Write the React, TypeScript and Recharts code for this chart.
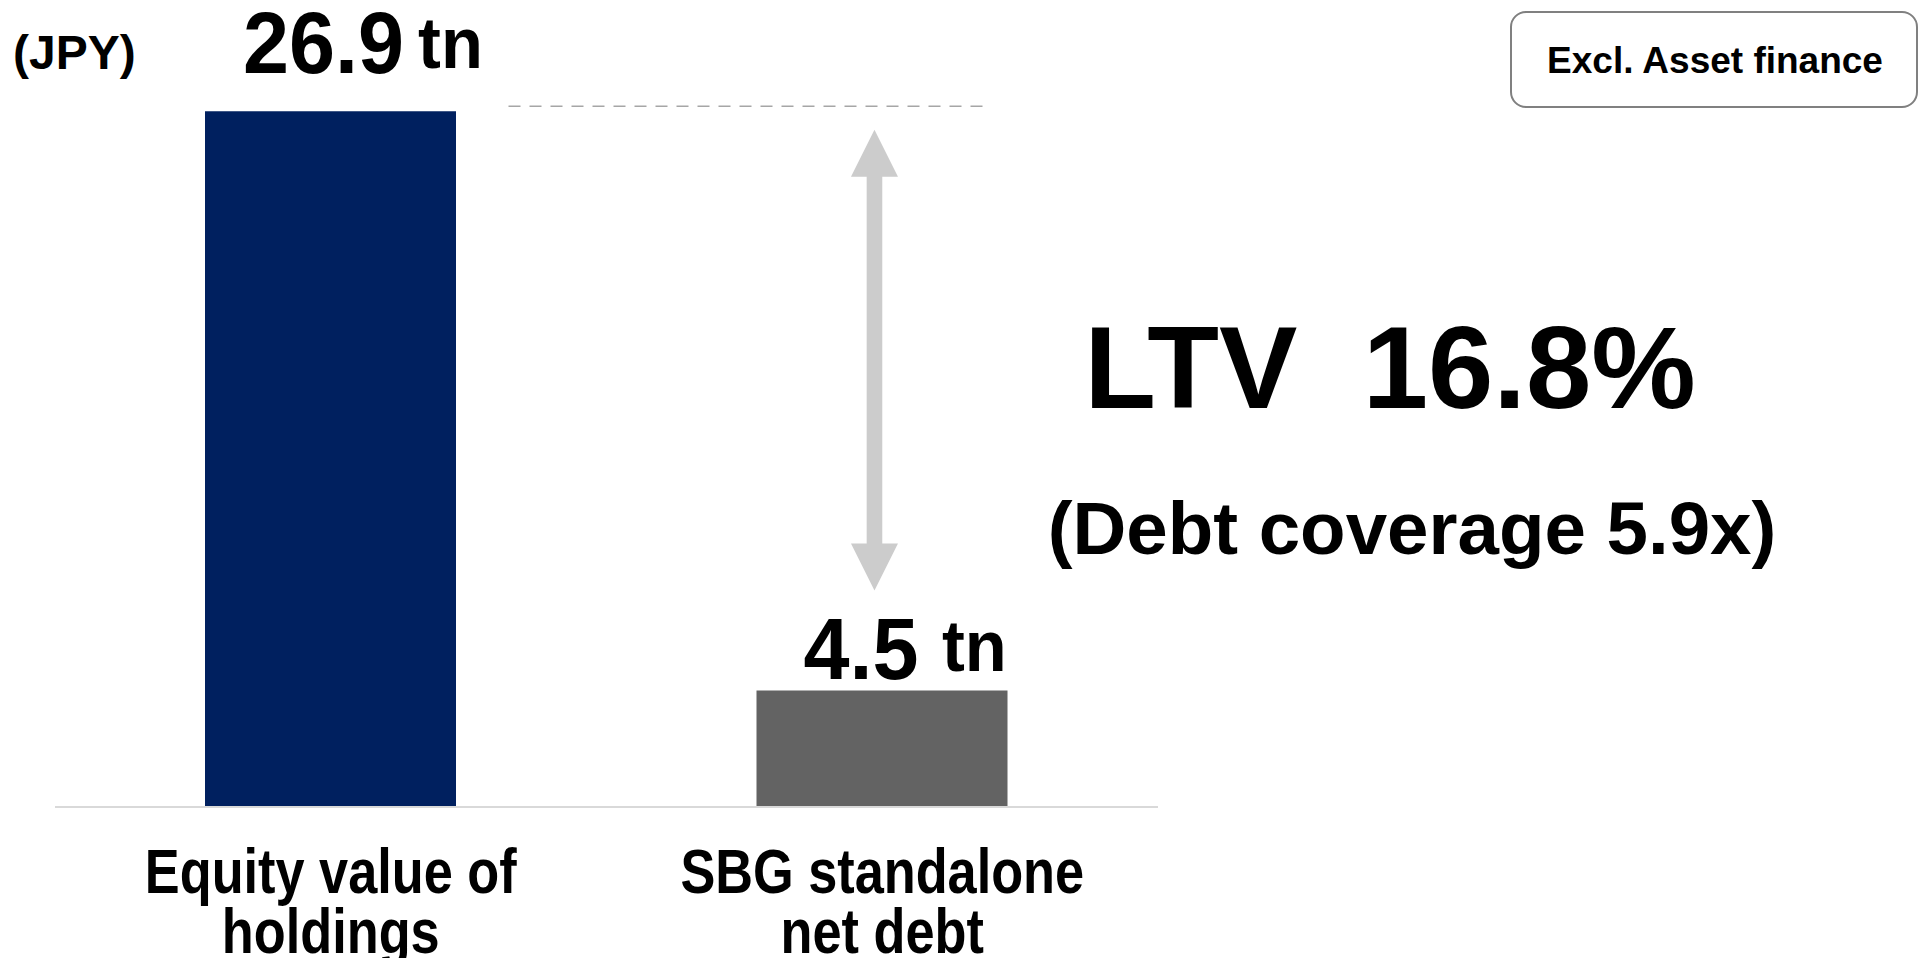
import { BarChart, Bar, XAxis, YAxis, Cell, LabelList } from 'recharts'

const CATEGORY_LINES = [
  ['Equity value of', 'holdings'],
  ['SBG standalone', 'net debt'],
]
const VALUES = [26.9, 4.5]
const VALUE_TEXT = ['26.9', '4.5']
const UNIT = 'tn'
const CURRENCY = '(JPY)'
const LTV_TEXT = 'LTV  16.8%'
const COVERAGE_TEXT = '(Debt coverage 5.9x)'
const SCOPE_TEXT = 'Excl. Asset finance'
const Y_DOMAIN = [0, 30]

const BAR_COLORS = ['#00205f', '#636363']
const FONT = '"Liberation Sans", Arial, Helvetica, sans-serif'

// label placement per bar (offsets from the bar's top-left corner)
const VALUE_LABEL_POS = [
  { dx: 38, dy: -38, gap: 15, unitDy: -5 },
  { dx: 47, dy: -12, gap: 25, unitDy: -8 },
]

const data = CATEGORY_LINES.map((lines, i) => ({
  name: lines.join(' '),
  value: VALUES[i],
}))

function ValueLabel(props: any) {
  const { x, y, index } = props
  const p = VALUE_LABEL_POS[index]
  if (!p) return null
  return (
    <g transform={`translate(${x + p.dx},${y + p.dy}) scale(0.94,1)`}>
      <text x={0} y={0} fontFamily={FONT} fontWeight="bold" fontSize={88} fill="#000">
        {VALUE_TEXT[index]}
        <tspan fontSize={73} dx={p.gap} dy={p.unitDy}>{UNIT}</tspan>
      </text>
    </g>
  )
}

// dashed level of the equity bar and the gap arrow, drawn next to the debt bar
function SpanMarker(props: any) {
  const { x, y, width, height, index } = props
  if (index !== 1) return null
  const k = height / VALUES[1]
  const bottom = y + height
  const levelY = bottom - VALUES[0] * k - 5
  const cx = x + width * 0.47
  const top = levelY + 23.5
  const tip = y - 100
  const headH = 47
  const headW = 23.5
  const shaft = 7.8
  const pts = [
    [cx, top],
    [cx + headW, top + headH],
    [cx + shaft, top + headH],
    [cx + shaft, tip - headH],
    [cx + headW, tip - headH],
    [cx, tip],
    [cx - headW, tip - headH],
    [cx - shaft, tip - headH],
    [cx - shaft, top + headH],
    [cx - headW, top + headH],
  ]
  return (
    <g>
      <line
        x1={x - 248}
        x2={x + 226}
        y1={levelY}
        y2={levelY}
        stroke="#a6a6a6"
        strokeWidth={1.5}
        strokeDasharray="12 9"
      />
      <polygon points={pts.map((q) => q.join(',')).join(' ')} fill="#cccccc" />
    </g>
  )
}

function CategoryTick(props: any) {
  const { x, y, payload } = props
  const lines = CATEGORY_LINES.find((l) => l.join(' ') === payload.value) || [payload.value]
  return (
    <g transform={`translate(${x},${y}) scale(0.83,1)`}>
      {lines.map((line, i) => (
        <text
          key={i}
          x={0}
          y={86 + i * 60}
          textAnchor="middle"
          fontFamily={FONT}
          fontWeight="bold"
          fontSize={63}
          fill="#000"
        >
          {line}
        </text>
      ))}
    </g>
  )
}

export default function App() {
  return (
    <div style={{ position: 'absolute', left: 0, top: 0, width: 1922, height: 958, background: '#fff' }}>
      <BarChart
        width={1922}
        height={958}
        data={data}
        margin={{ top: 31, right: 764, bottom: 0, left: 55 }}
      >
        <YAxis hide domain={Y_DOMAIN} />
        <XAxis
          dataKey="name"
          height={151}
          axisLine={{ stroke: '#d9d9d9', strokeWidth: 2 }}
          tickLine={false}
          tickSize={0}
          tickMargin={0}
          interval={0}
          tick={<CategoryTick />}
        />
        <Bar dataKey="value" barSize={251} isAnimationActive={false}>
          {data.map((d, i) => (
            <Cell key={d.name} fill={BAR_COLORS[i]} />
          ))}
          <LabelList dataKey="value" content={<ValueLabel />} />
          <LabelList dataKey="value" content={<SpanMarker />} />
        </Bar>
      </BarChart>
      <svg
        width={1922}
        height={958}
        style={{ position: 'absolute', left: 0, top: 0, pointerEvents: 'none' }}
        fontFamily={FONT}
        fontWeight="bold"
      >
        <text x={13} y={69} fontSize={48} fill="#000">{CURRENCY}</text>
        <rect x={1511} y={12} width={406} height={95} rx={15} fill="none" stroke="#808080" strokeWidth={2} />
        <text x={1715} y={73} fontSize={37} textAnchor="middle" fill="#000">{SCOPE_TEXT}</text>
        <text x={1390} y={408} fontSize={117.5} textAnchor="middle" fill="#000" style={{ whiteSpace: 'pre' }}>
          {LTV_TEXT}
        </text>
        <text x={1412} y={554} fontSize={74.5} textAnchor="middle" fill="#000">{COVERAGE_TEXT}</text>
      </svg>
    </div>
  )
}
